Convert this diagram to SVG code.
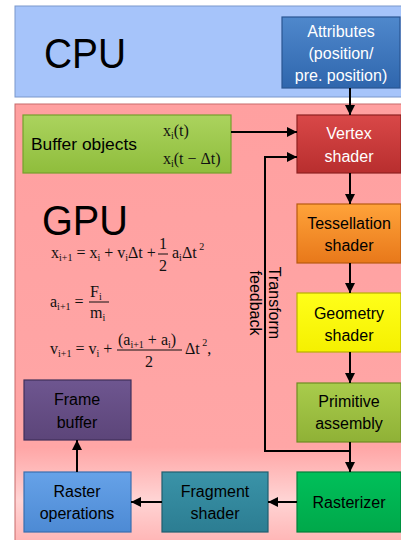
<svg xmlns="http://www.w3.org/2000/svg" width="401" height="540" viewBox="0 0 401 540">
<defs>
  <linearGradient id="gGpu" x1="0" y1="0" x2="0" y2="1">
    <stop offset="0" stop-color="#ffa0a0"/>
    <stop offset="0.78" stop-color="#ffa6a6"/>
    <stop offset="0.9" stop-color="#ffd4d4"/>
    <stop offset="1" stop-color="#ffb4b4"/>
  </linearGradient>
  <linearGradient id="gBlue" x1="0" y1="0" x2="0" y2="1"><stop offset="0" stop-color="#4f88cc"/><stop offset="1" stop-color="#2f66ad"/></linearGradient>
  <linearGradient id="gGreen" x1="0" y1="0" x2="0" y2="1"><stop offset="0" stop-color="#abd35e"/><stop offset="1" stop-color="#8fbd3c"/></linearGradient>
  <linearGradient id="gRed" x1="0" y1="0" x2="0" y2="1"><stop offset="0" stop-color="#d94848"/><stop offset="1" stop-color="#b82e2e"/></linearGradient>
  <linearGradient id="gOrange" x1="0" y1="0" x2="0" y2="1"><stop offset="0" stop-color="#ffa33a"/><stop offset="1" stop-color="#e8781a"/></linearGradient>
  <linearGradient id="gYellow" x1="0" y1="0" x2="0" y2="1"><stop offset="0" stop-color="#ffff1a"/><stop offset="1" stop-color="#f5f000"/></linearGradient>
  <linearGradient id="gOlive" x1="0" y1="0" x2="0" y2="1"><stop offset="0" stop-color="#a9cc4c"/><stop offset="1" stop-color="#8fb136"/></linearGradient>
  <linearGradient id="gRast" x1="0" y1="0" x2="0" y2="1"><stop offset="0" stop-color="#00c05a"/><stop offset="1" stop-color="#00a84a"/></linearGradient>
  <linearGradient id="gFrag" x1="0" y1="0" x2="0" y2="1"><stop offset="0" stop-color="#3a93a8"/><stop offset="1" stop-color="#2c7d92"/></linearGradient>
  <linearGradient id="gRop" x1="0" y1="0" x2="0" y2="1"><stop offset="0" stop-color="#66a2e8"/><stop offset="1" stop-color="#4d8ad4"/></linearGradient>
  <linearGradient id="gFb" x1="0" y1="0" x2="0" y2="1"><stop offset="0" stop-color="#6e5690"/><stop offset="1" stop-color="#5c4579"/></linearGradient>
  <marker id="ah" viewBox="0 0 10 10" refX="10" refY="5" markerWidth="10" markerHeight="10" markerUnits="userSpaceOnUse" orient="auto">
    <path d="M0,0 L10,5 L0,10 Z" fill="#000"/>
  </marker>
</defs>
<style>
  .lbl { font-family: "Liberation Sans", Arial, sans-serif; font-size: 16px; text-anchor: middle; }
  .w { fill: #ffffff; }
  .k { fill: #000000; }
  .big { font-family: "Liberation Sans", Arial, sans-serif; font-size: 42px; fill: #000; }
  .m { font-family: "Liberation Serif", "Times New Roman", serif; font-size: 16px; fill: #111; }
  .sub { font-size: 10px; }
  .conn { stroke: #000; stroke-width: 2; fill: none; }
  .box { stroke-width: 1.2; }
</style>

<g id="cpu">
  <rect x="15" y="6" width="390" height="91" fill="#a6c4fa" stroke="#7a98cc" stroke-width="1"/>
  <text class="big" x="44" y="68" textLength="82" lengthAdjust="spacingAndGlyphs">CPU</text>
</g>
<g id="gpu">
  <rect x="15" y="104" width="390" height="440" fill="url(#gGpu)" stroke="#c86a6a" stroke-width="1"/>
  <text class="big" x="42" y="235" textLength="86" lengthAdjust="spacingAndGlyphs">GPU</text>
</g>

<g id="attributes">
  <rect class="box" x="282" y="17" width="118" height="71" fill="url(#gBlue)" stroke="#2a5592"/>
  <text class="lbl w" x="341" y="37">Attributes</text>
  <text class="lbl w" x="341" y="59">(position/</text>
  <text class="lbl w" x="341" y="81">pre. position)</text>
</g>

<g id="buffer-objects">
  <rect class="box" x="23" y="115" width="208" height="58" fill="url(#gGreen)" stroke="#76a02c"/>
  <text class="lbl k" x="31" y="150" style="text-anchor:start" textLength="106" lengthAdjust="spacingAndGlyphs">Buffer objects</text>
  <text class="m" x="163" y="136">x<tspan class="sub" dy="3">i</tspan><tspan dy="-3">(t)</tspan></text>
  <text class="m" x="163" y="164">x<tspan class="sub" dy="3">i</tspan><tspan dy="-3">(t − Δt)</tspan></text>
</g>

<g id="vertex-shader">
  <rect class="box" x="297" y="115" width="104" height="58" fill="url(#gRed)" stroke="#8e2020"/>
  <text class="lbl w" x="349" y="139">Vertex</text>
  <text class="lbl w" x="349" y="162">shader</text>
</g>

<g id="tessellation-shader">
  <rect class="box" x="297" y="204" width="104" height="59" fill="url(#gOrange)" stroke="#b85a10"/>
  <text class="lbl k" x="349" y="229">Tessellation</text>
  <text class="lbl k" x="349" y="251">shader</text>
</g>

<g id="geometry-shader">
  <rect class="box" x="297" y="293" width="104" height="59" fill="url(#gYellow)" stroke="#b8b000"/>
  <text class="lbl k" x="349" y="319">Geometry</text>
  <text class="lbl k" x="349" y="341">shader</text>
</g>

<g id="primitive-assembly">
  <rect class="box" x="297" y="383" width="104" height="59" fill="url(#gOlive)" stroke="#6e8c22"/>
  <text class="lbl k" x="349" y="407">Primitive</text>
  <text class="lbl k" x="349" y="429">assembly</text>
</g>

<g id="rasterizer">
  <rect class="box" x="297" y="472" width="104" height="60" fill="url(#gRast)" stroke="#00803a"/>
  <text class="lbl k" x="349" y="508">Rasterizer</text>
</g>

<g id="fragment-shader">
  <rect class="box" x="162" y="472" width="106" height="60" fill="url(#gFrag)" stroke="#1f5f70"/>
  <text class="lbl k" x="215" y="497">Fragment</text>
  <text class="lbl k" x="215" y="519">shader</text>
</g>

<g id="raster-operations">
  <rect class="box" x="24" y="472" width="107" height="60" fill="url(#gRop)" stroke="#3a6fb0"/>
  <text class="lbl k" x="77" y="497">Raster</text>
  <text class="lbl k" x="77" y="519">operations</text>
</g>

<g id="frame-buffer">
  <rect class="box" x="24" y="380" width="107" height="60" fill="url(#gFb)" stroke="#40305a"/>
  <text class="lbl k" x="77" y="405">Frame</text>
  <text class="lbl k" x="77" y="428">buffer</text>
</g>

<g id="connectors">
  <line class="conn" x1="350" y1="88" x2="350" y2="115" marker-end="url(#ah)"/>
  <line class="conn" x1="231" y1="132" x2="297" y2="132" marker-end="url(#ah)"/>
  <line class="conn" x1="350" y1="173" x2="350" y2="204" marker-end="url(#ah)"/>
  <line class="conn" x1="350" y1="263" x2="350" y2="293" marker-end="url(#ah)"/>
  <line class="conn" x1="350" y1="352" x2="350" y2="383" marker-end="url(#ah)"/>
  <line class="conn" x1="350" y1="442" x2="350" y2="472" marker-end="url(#ah)"/>
  <polyline class="conn" points="350,451 265,451 265,157 297,157" marker-end="url(#ah)"/>
  <line class="conn" x1="297" y1="502" x2="268" y2="502" marker-end="url(#ah)"/>
  <line class="conn" x1="162" y1="502" x2="131" y2="502" marker-end="url(#ah)"/>
  <line class="conn" x1="77" y1="472" x2="77" y2="440" marker-end="url(#ah)"/>
  <text class="lbl k" transform="translate(269,303) rotate(90)">Transform</text>
  <text class="lbl k" transform="translate(250,303) rotate(90)">feedback</text>
</g>

<g id="equations">
  <text class="m" x="51" y="258">x<tspan class="sub" dy="3">i+1</tspan><tspan dy="-3"> = x</tspan><tspan class="sub" dy="3">i</tspan><tspan dy="-3"> + v</tspan><tspan class="sub" dy="3">i</tspan><tspan dy="-3">Δt +</tspan></text>
  <text class="m" x="163" y="249" text-anchor="middle">1</text>
  <line x1="158" y1="254" x2="168" y2="254" stroke="#111" stroke-width="1"/>
  <text class="m" x="163" y="271" text-anchor="middle">2</text>
  <text class="m" x="172" y="258">a<tspan class="sub" dy="3">i</tspan><tspan dy="-3">Δt</tspan><tspan class="sub" dy="-8"> 2</tspan></text>

  <text class="m" x="50" y="307">a<tspan class="sub" dy="3">i+1</tspan><tspan dy="-3"> =</tspan></text>
  <text class="m" x="90" y="297">F<tspan class="sub" dy="3">i</tspan></text>
  <line x1="89" y1="302" x2="109" y2="302" stroke="#111" stroke-width="1"/>
  <text class="m" x="90" y="318">m<tspan class="sub" dy="3">i</tspan></text>

  <text class="m" x="50" y="354">v<tspan class="sub" dy="3">i+1</tspan><tspan dy="-3"> = v</tspan><tspan class="sub" dy="3">i</tspan><tspan dy="-3"> +</tspan></text>
  <text class="m" x="118" y="345">(a<tspan class="sub" dy="3">i+1</tspan><tspan dy="-3"> + a</tspan><tspan class="sub" dy="3">i</tspan><tspan dy="-3">)</tspan></text>
  <line x1="117" y1="350" x2="182" y2="350" stroke="#111" stroke-width="1"/>
  <text class="m" x="149" y="367" text-anchor="middle">2</text>
  <text class="m" x="185" y="354">Δt<tspan class="sub" dy="-8"> 2</tspan><tspan dy="8">,</tspan></text>
</g>
</svg>
